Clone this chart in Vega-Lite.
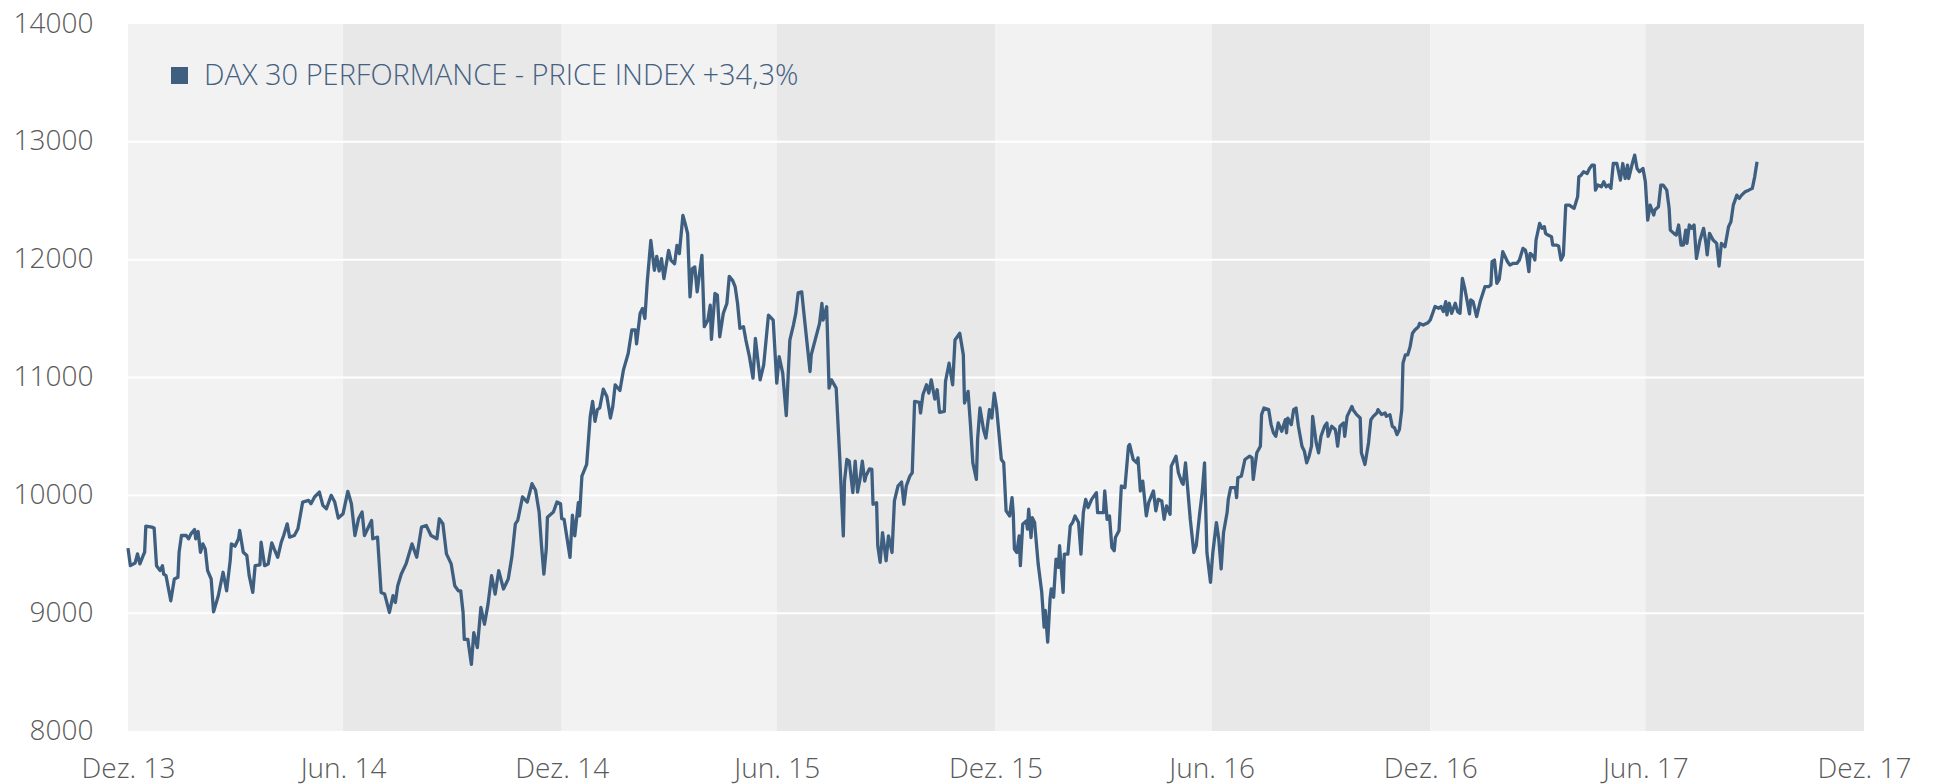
{
 "$schema": "https://vega.github.io/schema/vega-lite/v6.json",
 "width": 1736,
 "height": 707,
 "autosize": {"type": "none"},
 "padding": {"left": 128, "top": 24, "right": 72, "bottom": 53},
 "background": "#ffffff",
 "config": {"view": {"stroke": null}, "font": "Open Sans"},
 "datasets": {
  "bands": [
   {"s": "2013-12-31", "e": "2014-06-30", "k": "a"},
   {"s": "2014-06-30", "e": "2014-12-31", "k": "b"},
   {"s": "2014-12-31", "e": "2015-06-30", "k": "a"},
   {"s": "2015-06-30", "e": "2015-12-31", "k": "b"},
   {"s": "2015-12-31", "e": "2016-06-30", "k": "a"},
   {"s": "2016-06-30", "e": "2016-12-31", "k": "b"},
   {"s": "2016-12-31", "e": "2017-06-30", "k": "a"},
   {"s": "2017-06-30", "e": "2017-12-31", "k": "b"}
  ],
  "grid": [{"g": 9000}, {"g": 10000}, {"g": 11000}, {"g": 12000}, {"g": 13000}],
  "dax": [
   {"d":"2013-12-31","v":9552},{"d":"2014-01-02","v":9403},{"d":"2014-01-06","v":9426},{"d":"2014-01-08","v":9503},{"d":"2014-01-10","v":9418},{"d":"2014-01-13","v":9494},{"d":"2014-01-14","v":9517},{"d":"2014-01-15","v":9739},{"d":"2014-01-20","v":9730},{"d":"2014-01-22","v":9722},{"d":"2014-01-24","v":9403},{"d":"2014-01-27","v":9361},{"d":"2014-01-29","v":9403},{"d":"2014-01-30","v":9332},{"d":"2014-02-01","v":9318},{"d":"2014-02-05","v":9105},{"d":"2014-02-08","v":9290},{"d":"2014-02-11","v":9304},{"d":"2014-02-12","v":9517},{"d":"2014-02-14","v":9659},{"d":"2014-02-18","v":9659},{"d":"2014-02-20","v":9631},{"d":"2014-02-22","v":9673},{"d":"2014-02-25","v":9710},{"d":"2014-02-26","v":9631},{"d":"2014-02-28","v":9693},
   {"d":"2014-03-02","v":9517},{"d":"2014-03-04","v":9588},{"d":"2014-03-06","v":9545},{"d":"2014-03-08","v":9361},{"d":"2014-03-11","v":9290},{"d":"2014-03-13","v":9011},{"d":"2014-03-17","v":9148},{"d":"2014-03-21","v":9347},{"d":"2014-03-24","v":9190},{"d":"2014-03-27","v":9446},{"d":"2014-03-28","v":9588},{"d":"2014-03-31","v":9568},{"d":"2014-04-03","v":9631},{"d":"2014-04-04","v":9702},{"d":"2014-04-07","v":9517},{"d":"2014-04-10","v":9489},{"d":"2014-04-12","v":9318},{"d":"2014-04-15","v":9176},{"d":"2014-04-17","v":9403},{"d":"2014-04-21","v":9409},{"d":"2014-04-22","v":9602},{"d":"2014-04-25","v":9403},{"d":"2014-04-28","v":9418},{"d":"2014-05-01","v":9597},{"d":"2014-05-03","v":9545},{"d":"2014-05-06","v":9474},{"d":"2014-05-09","v":9602},{"d":"2014-05-11","v":9659},{"d":"2014-05-14","v":9758},{"d":"2014-05-16","v":9645},{"d":"2014-05-20","v":9659},{"d":"2014-05-23","v":9716},{"d":"2014-05-27","v":9943},{"d":"2014-06-01","v":9957},{"d":"2014-06-03","v":9929},{"d":"2014-06-06","v":9986},{"d":"2014-06-10","v":10028},{"d":"2014-06-13","v":9915},{"d":"2014-06-16","v":9886},{"d":"2014-06-20","v":10000},{"d":"2014-06-23","v":9943},{"d":"2014-06-26","v":9807},{"d":"2014-06-30","v":9844},
   {"d":"2014-07-04","v":10034},{"d":"2014-07-07","v":9929},{"d":"2014-07-10","v":9659},{"d":"2014-07-13","v":9801},{"d":"2014-07-16","v":9858},{"d":"2014-07-18","v":9659},{"d":"2014-07-24","v":9787},{"d":"2014-07-25","v":9631},{"d":"2014-07-29","v":9645},{"d":"2014-08-01","v":9176},{"d":"2014-08-04","v":9162},{"d":"2014-08-08","v":9006},{"d":"2014-08-11","v":9148},{"d":"2014-08-13","v":9091},{"d":"2014-08-15","v":9233},{"d":"2014-08-18","v":9332},{"d":"2014-08-22","v":9418},{"d":"2014-08-27","v":9588},{"d":"2014-08-31","v":9474},{"d":"2014-09-04","v":9730},{"d":"2014-09-08","v":9744},{"d":"2014-09-12","v":9659},{"d":"2014-09-17","v":9631},{"d":"2014-09-19","v":9801},{"d":"2014-09-22","v":9759},{"d":"2014-09-25","v":9503},{"d":"2014-09-29","v":9418},{"d":"2014-10-02","v":9233},{"d":"2014-10-05","v":9190},{"d":"2014-10-07","v":9190},{"d":"2014-10-09","v":9006},{"d":"2014-10-10","v":8778},{"d":"2014-10-13","v":8778},{"d":"2014-10-16","v":8565},{"d":"2014-10-18","v":8835},{"d":"2014-10-21","v":8707},{"d":"2014-10-24","v":9048},{"d":"2014-10-27","v":8906},{"d":"2014-10-30","v":9077},{"d":"2014-11-02","v":9318},{"d":"2014-11-05","v":9162},{"d":"2014-11-08","v":9361},{"d":"2014-11-12","v":9205},{"d":"2014-11-16","v":9290},{"d":"2014-11-19","v":9474},{"d":"2014-11-22","v":9758},{"d":"2014-11-24","v":9787},{"d":"2014-11-28","v":9986},{"d":"2014-12-02","v":9943},{"d":"2014-12-06","v":10099},{"d":"2014-12-09","v":10043},{"d":"2014-12-12","v":9858},{"d":"2014-12-14","v":9574},{"d":"2014-12-16","v":9332},{"d":"2014-12-18","v":9545},{"d":"2014-12-19","v":9815},{"d":"2014-12-24","v":9858},{"d":"2014-12-27","v":9943},{"d":"2014-12-30","v":9929},{"d":"2014-12-31","v":9803},
   {"d":"2015-01-02","v":9797},{"d":"2015-01-07","v":9473},{"d":"2015-01-09","v":9831},{"d":"2015-01-11","v":9656},{"d":"2015-01-14","v":9938},{"d":"2015-01-15","v":9825},{"d":"2015-01-17","v":10163},{"d":"2015-01-21","v":10262},{"d":"2015-01-24","v":10670},{"d":"2015-01-26","v":10797},{"d":"2015-01-28","v":10628},{"d":"2015-01-30","v":10727},{"d":"2015-02-01","v":10741},{"d":"2015-02-04","v":10901},{"d":"2015-02-07","v":10839},{"d":"2015-02-10","v":10656},{"d":"2015-02-12","v":10755},{"d":"2015-02-14","v":10938},{"d":"2015-02-18","v":10890},{"d":"2015-02-21","v":11065},{"d":"2015-02-25","v":11206},{"d":"2015-02-28","v":11403},{"d":"2015-03-03","v":11403},{"d":"2015-03-04","v":11285},{"d":"2015-03-07","v":11544},{"d":"2015-03-09","v":11586},{"d":"2015-03-11","v":11501},{"d":"2015-03-13","v":11811},{"d":"2015-03-16","v":12163},{"d":"2015-03-19","v":11910},{"d":"2015-03-21","v":12028},{"d":"2015-03-23","v":11904},{"d":"2015-03-25","v":12008},{"d":"2015-03-27","v":11839},{"d":"2015-03-31","v":12079},{"d":"2015-04-02","v":11994},{"d":"2015-04-05","v":11966},{"d":"2015-04-07","v":12121},{"d":"2015-04-09","v":12051},{"d":"2015-04-12","v":12375},{"d":"2015-04-14","v":12304},{"d":"2015-04-16","v":12220},{"d":"2015-04-18","v":11684},{"d":"2015-04-20","v":11924},{"d":"2015-04-22","v":11938},{"d":"2015-04-24","v":11727},{"d":"2015-04-28","v":12037},{"d":"2015-04-30","v":11431},{"d":"2015-05-03","v":11487},{"d":"2015-05-05","v":11614},{"d":"2015-05-06","v":11324},{"d":"2015-05-09","v":11713},{"d":"2015-05-11","v":11699},{"d":"2015-05-13","v":11346},{"d":"2015-05-16","v":11544},{"d":"2015-05-19","v":11628},{"d":"2015-05-21","v":11859},{"d":"2015-05-24","v":11820},{"d":"2015-05-26","v":11769},{"d":"2015-05-28","v":11628},{"d":"2015-05-30","v":11417},{"d":"2015-06-02","v":11431},{"d":"2015-06-04","v":11318},{"d":"2015-06-07","v":11177},{"d":"2015-06-10","v":10994},{"d":"2015-06-12","v":11332},{"d":"2015-06-16","v":10980},{"d":"2015-06-19","v":11107},{"d":"2015-06-23","v":11530},{"d":"2015-06-27","v":11487},{"d":"2015-06-30","v":10952},
   {"d":"2015-07-02","v":11177},{"d":"2015-07-05","v":11037},{"d":"2015-07-08","v":10676},{"d":"2015-07-11","v":11318},{"d":"2015-07-14","v":11445},{"d":"2015-07-16","v":11544},{"d":"2015-07-18","v":11718},{"d":"2015-07-21","v":11727},{"d":"2015-07-23","v":11530},{"d":"2015-07-28","v":11051},{"d":"2015-07-29","v":11192},{"d":"2015-08-05","v":11459},{"d":"2015-08-07","v":11628},{"d":"2015-08-08","v":11487},{"d":"2015-08-11","v":11600},{"d":"2015-08-13","v":10910},{"d":"2015-08-15","v":10980},{"d":"2015-08-19","v":10910},{"d":"2015-08-22","v":10318},{"d":"2015-08-25","v":9656},{"d":"2015-08-26","v":10121},{"d":"2015-08-28","v":10304},{"d":"2015-08-30","v":10290},{"d":"2015-09-02","v":10023},{"d":"2015-09-04","v":10290},{"d":"2015-09-06","v":10028},{"d":"2015-09-08","v":10135},{"d":"2015-09-10","v":10290},{"d":"2015-09-12","v":10121},{"d":"2015-09-13","v":10163},{"d":"2015-09-16","v":10225},{"d":"2015-09-18","v":10220},{"d":"2015-09-19","v":9924},{"d":"2015-09-22","v":9938},{"d":"2015-09-23","v":9572},{"d":"2015-09-25","v":9431},{"d":"2015-09-27","v":9684},{"d":"2015-09-30","v":9445},{"d":"2015-10-02","v":9656},{"d":"2015-10-05","v":9515},{"d":"2015-10-07","v":9952},{"d":"2015-10-10","v":10079},{"d":"2015-10-13","v":10113},{"d":"2015-10-15","v":9924},{"d":"2015-10-17","v":10079},{"d":"2015-10-20","v":10163},{"d":"2015-10-22","v":10191},{"d":"2015-10-24","v":10797},{"d":"2015-10-28","v":10789},{"d":"2015-10-29","v":10699},{"d":"2015-10-31","v":10853},{"d":"2015-11-03","v":10938},{"d":"2015-11-05","v":10868},{"d":"2015-11-07","v":10980},{"d":"2015-11-10","v":10817},{"d":"2015-11-12","v":10896},{"d":"2015-11-14","v":10704},{"d":"2015-11-18","v":10713},{"d":"2015-11-19","v":10966},{"d":"2015-11-22","v":11121},{"d":"2015-11-25","v":10938},{"d":"2015-11-27","v":11318},{"d":"2015-12-01","v":11375},{"d":"2015-12-04","v":11192},{"d":"2015-12-05","v":10783},{"d":"2015-12-08","v":10882},{"d":"2015-12-10","v":10600},{"d":"2015-12-12","v":10276},{"d":"2015-12-15","v":10135},{"d":"2015-12-16","v":10473},{"d":"2015-12-18","v":10741},{"d":"2015-12-21","v":10558},{"d":"2015-12-23","v":10487},{"d":"2015-12-26","v":10727},{"d":"2015-12-28","v":10656},{"d":"2015-12-30","v":10868},
   {"d":"2016-01-01","v":10741},{"d":"2016-01-05","v":10304},{"d":"2016-01-07","v":10276},{"d":"2016-01-09","v":9868},{"d":"2016-01-12","v":9825},{"d":"2016-01-14","v":9980},{"d":"2016-01-15","v":9854},{"d":"2016-01-16","v":9544},{"d":"2016-01-18","v":9515},{"d":"2016-01-20","v":9656},{"d":"2016-01-21","v":9403},{"d":"2016-01-23","v":9755},{"d":"2016-01-26","v":9783},{"d":"2016-01-27","v":9713},{"d":"2016-01-28","v":9882},{"d":"2016-01-30","v":9642},{"d":"2016-01-31","v":9811},{"d":"2016-02-02","v":9769},{"d":"2016-02-05","v":9417},{"d":"2016-02-08","v":9177},{"d":"2016-02-10","v":8882},{"d":"2016-02-11","v":9023},{"d":"2016-02-13","v":8755},{"d":"2016-02-15","v":9121},{"d":"2016-02-16","v":9206},{"d":"2016-02-18","v":9135},{"d":"2016-02-20","v":9459},{"d":"2016-02-22","v":9389},{"d":"2016-02-23","v":9572},{"d":"2016-02-26","v":9177},{"d":"2016-02-27","v":9501},{"d":"2016-03-01","v":9501},{"d":"2016-03-03","v":9741},{"d":"2016-03-05","v":9769},{"d":"2016-03-07","v":9825},{"d":"2016-03-10","v":9769},{"d":"2016-03-12","v":9501},{"d":"2016-03-14","v":9854},{"d":"2016-03-16","v":9966},{"d":"2016-03-18","v":9896},{"d":"2016-03-21","v":9966},{"d":"2016-03-25","v":10023},{"d":"2016-03-26","v":9854},{"d":"2016-03-31","v":9854},{"d":"2016-04-01","v":10037},{"d":"2016-04-03","v":9797},{"d":"2016-04-05","v":9825},{"d":"2016-04-07","v":9558},{"d":"2016-04-09","v":9530},{"d":"2016-04-10","v":9642},{"d":"2016-04-13","v":9699},{"d":"2016-04-15","v":10079},{"d":"2016-04-18","v":10065},{"d":"2016-04-21","v":10417},{"d":"2016-04-22","v":10431},{"d":"2016-04-25","v":10304},{"d":"2016-04-28","v":10276},{"d":"2016-04-29","v":10318},{"d":"2016-05-01","v":10037},{"d":"2016-05-03","v":10121},{"d":"2016-05-06","v":9825},{"d":"2016-05-08","v":9938},{"d":"2016-05-12","v":10037},{"d":"2016-05-14","v":9868},{"d":"2016-05-16","v":9966},{"d":"2016-05-19","v":9952},{"d":"2016-05-21","v":9797},{"d":"2016-05-23","v":9910},{"d":"2016-05-26","v":9839},{"d":"2016-05-27","v":10248},{"d":"2016-05-31","v":10332},{"d":"2016-06-02","v":10192},{"d":"2016-06-05","v":10107},{"d":"2016-06-06","v":10093},{"d":"2016-06-08","v":10276},{"d":"2016-06-12","v":9797},{"d":"2016-06-15","v":9515},{"d":"2016-06-17","v":9572},{"d":"2016-06-20","v":9854},{"d":"2016-06-22","v":10023},{"d":"2016-06-24","v":10276},{"d":"2016-06-26","v":9515},{"d":"2016-06-29","v":9262},
   {"d":"2016-07-01","v":9515},{"d":"2016-07-04","v":9769},{"d":"2016-07-06","v":9628},{"d":"2016-07-08","v":9375},{"d":"2016-07-10","v":9685},{"d":"2016-07-13","v":9854},{"d":"2016-07-14","v":9966},{"d":"2016-07-16","v":10065},{"d":"2016-07-20","v":10065},{"d":"2016-07-21","v":9980},{"d":"2016-07-22","v":10149},{"d":"2016-07-25","v":10163},{"d":"2016-07-28","v":10304},{"d":"2016-08-01","v":10332},{"d":"2016-08-03","v":10318},{"d":"2016-08-04","v":10135},{"d":"2016-08-07","v":10361},{"d":"2016-08-10","v":10417},{"d":"2016-08-11","v":10685},{"d":"2016-08-13","v":10741},{"d":"2016-08-17","v":10727},{"d":"2016-08-19","v":10600},{"d":"2016-08-21","v":10530},{"d":"2016-08-23","v":10501},{"d":"2016-08-25","v":10614},{"d":"2016-08-28","v":10544},{"d":"2016-08-31","v":10642},{"d":"2016-09-01","v":10530},{"d":"2016-09-02","v":10656},{"d":"2016-09-05","v":10600},{"d":"2016-09-07","v":10727},{"d":"2016-09-09","v":10741},{"d":"2016-09-11","v":10586},{"d":"2016-09-14","v":10417},{"d":"2016-09-16","v":10375},{"d":"2016-09-18","v":10276},{"d":"2016-09-20","v":10332},{"d":"2016-09-22","v":10417},{"d":"2016-09-23","v":10670},{"d":"2016-09-26","v":10445},{"d":"2016-09-28","v":10361},{"d":"2016-09-30","v":10501},{"d":"2016-10-03","v":10586},{"d":"2016-10-05","v":10614},{"d":"2016-10-06","v":10501},{"d":"2016-10-09","v":10586},{"d":"2016-10-12","v":10558},{"d":"2016-10-13","v":10501},{"d":"2016-10-14","v":10417},{"d":"2016-10-16","v":10586},{"d":"2016-10-19","v":10614},{"d":"2016-10-20","v":10501},{"d":"2016-10-22","v":10670},{"d":"2016-10-26","v":10755},{"d":"2016-10-27","v":10727},{"d":"2016-10-30","v":10685},{"d":"2016-11-02","v":10656},{"d":"2016-11-03","v":10361},{"d":"2016-11-06","v":10262},{"d":"2016-11-09","v":10445},{"d":"2016-11-11","v":10642},{"d":"2016-11-13","v":10670},{"d":"2016-11-16","v":10699},{"d":"2016-11-17","v":10727},{"d":"2016-11-20","v":10685},{"d":"2016-11-23","v":10699},{"d":"2016-11-24","v":10670},{"d":"2016-11-27","v":10685},{"d":"2016-11-29","v":10586},{"d":"2016-12-01","v":10572},{"d":"2016-12-03","v":10515},{"d":"2016-12-05","v":10558},{"d":"2016-12-07","v":10727},{"d":"2016-12-08","v":11121},{"d":"2016-12-10","v":11192},{"d":"2016-12-12","v":11192},{"d":"2016-12-14","v":11262},{"d":"2016-12-16","v":11375},{"d":"2016-12-18","v":11403},{"d":"2016-12-21","v":11431},{"d":"2016-12-22","v":11459},{"d":"2016-12-25","v":11445},{"d":"2016-12-29","v":11465},{"d":"2016-12-31","v":11489},
   {"d":"2017-01-04","v":11602},{"d":"2017-01-07","v":11588},{"d":"2017-01-09","v":11602},{"d":"2017-01-11","v":11559},{"d":"2017-01-13","v":11644},{"d":"2017-01-14","v":11531},{"d":"2017-01-16","v":11630},{"d":"2017-01-18","v":11545},{"d":"2017-01-21","v":11630},{"d":"2017-01-23","v":11559},{"d":"2017-01-25","v":11545},{"d":"2017-01-27","v":11842},{"d":"2017-01-29","v":11757},{"d":"2017-02-02","v":11540},{"d":"2017-02-03","v":11658},{"d":"2017-02-05","v":11644},{"d":"2017-02-08","v":11517},{"d":"2017-02-11","v":11644},{"d":"2017-02-15","v":11771},{"d":"2017-02-18","v":11771},{"d":"2017-02-20","v":11785},{"d":"2017-02-21","v":11983},{"d":"2017-02-23","v":11997},{"d":"2017-02-25","v":11799},{"d":"2017-02-27","v":11833},{"d":"2017-03-02","v":12068},{"d":"2017-03-06","v":11983},{"d":"2017-03-08","v":11955},{"d":"2017-03-11","v":11969},{"d":"2017-03-14","v":11969},{"d":"2017-03-16","v":11997},{"d":"2017-03-19","v":12096},{"d":"2017-03-21","v":12082},{"d":"2017-03-22","v":12040},{"d":"2017-03-24","v":11898},{"d":"2017-03-25","v":12054},{"d":"2017-03-28","v":12025},{"d":"2017-03-29","v":11997},{"d":"2017-03-30","v":12167},{"d":"2017-04-02","v":12308},{"d":"2017-04-04","v":12266},{"d":"2017-04-06","v":12280},{"d":"2017-04-07","v":12223},{"d":"2017-04-09","v":12209},{"d":"2017-04-12","v":12195},{"d":"2017-04-13","v":12124},{"d":"2017-04-16","v":12124},{"d":"2017-04-18","v":12116},{"d":"2017-04-20","v":11997},{"d":"2017-04-22","v":12040},{"d":"2017-04-24","v":12463},{"d":"2017-04-27","v":12463},{"d":"2017-05-01","v":12435},{"d":"2017-05-04","v":12534},{"d":"2017-05-05","v":12703},{"d":"2017-05-07","v":12718},{"d":"2017-05-09","v":12746},{"d":"2017-05-12","v":12732},{"d":"2017-05-14","v":12774},{"d":"2017-05-16","v":12802},{"d":"2017-05-18","v":12802},{"d":"2017-05-19","v":12590},{"d":"2017-05-21","v":12633},{"d":"2017-05-24","v":12619},{"d":"2017-05-26","v":12661},{"d":"2017-05-28","v":12619},{"d":"2017-05-30","v":12633},{"d":"2017-06-01","v":12605},{"d":"2017-06-03","v":12816},{"d":"2017-06-06","v":12816},{"d":"2017-06-09","v":12675},{"d":"2017-06-11","v":12816},{"d":"2017-06-13","v":12689},{"d":"2017-06-15","v":12802},{"d":"2017-06-16","v":12689},{"d":"2017-06-19","v":12816},{"d":"2017-06-21","v":12887},{"d":"2017-06-23","v":12774},{"d":"2017-06-25","v":12746},{"d":"2017-06-28","v":12774},{"d":"2017-06-30","v":12661},
   {"d":"2017-07-02","v":12336},{"d":"2017-07-04","v":12463},{"d":"2017-07-07","v":12379},{"d":"2017-07-08","v":12421},{"d":"2017-07-11","v":12449},{"d":"2017-07-13","v":12633},{"d":"2017-07-15","v":12633},{"d":"2017-07-18","v":12590},{"d":"2017-07-20","v":12435},{"d":"2017-07-21","v":12251},{"d":"2017-07-24","v":12223},{"d":"2017-07-26","v":12209},{"d":"2017-07-28","v":12294},{"d":"2017-07-30","v":12124},{"d":"2017-08-01","v":12124},{"d":"2017-08-03","v":12251},{"d":"2017-08-04","v":12138},{"d":"2017-08-06","v":12294},{"d":"2017-08-08","v":12266},{"d":"2017-08-10","v":12294},{"d":"2017-08-12","v":12011},{"d":"2017-08-15","v":12167},{"d":"2017-08-18","v":12266},{"d":"2017-08-20","v":12138},{"d":"2017-08-21","v":12040},{"d":"2017-08-23","v":12223},{"d":"2017-08-26","v":12167},{"d":"2017-08-29","v":12138},{"d":"2017-08-31","v":11946},{"d":"2017-09-02","v":12138},{"d":"2017-09-05","v":12110},{"d":"2017-09-08","v":12280},{"d":"2017-09-10","v":12322},{"d":"2017-09-12","v":12463},{"d":"2017-09-15","v":12548},{"d":"2017-09-17","v":12520},{"d":"2017-09-19","v":12548},{"d":"2017-09-22","v":12576},{"d":"2017-09-25","v":12590},{"d":"2017-09-28","v":12605},{"d":"2017-09-30","v":12703},{"d":"2017-10-02","v":12831}
  ]
 },
 "layer": [
  {
   "data": {"name": "bands"},
   "mark": {"type": "rect"},
   "encoding": {
    "x": {
     "field": "s", "type": "temporal",
     "scale": {"type": "utc", "domain": [{"year": 2013, "month": 12, "date": 31, "utc": true}, {"year": 2017, "month": 12, "date": 31, "utc": true}]},
     "axis": {
      "title": null, "grid": false, "domain": false, "ticks": false,
      "values": [
       {"year": 2013, "month": 12, "date": 31, "utc": true},
       {"year": 2014, "month": 6, "date": 30, "utc": true},
       {"year": 2014, "month": 12, "date": 31, "utc": true},
       {"year": 2015, "month": 6, "date": 30, "utc": true},
       {"year": 2015, "month": 12, "date": 31, "utc": true},
       {"year": 2016, "month": 6, "date": 30, "utc": true},
       {"year": 2016, "month": 12, "date": 31, "utc": true},
       {"year": 2017, "month": 6, "date": 30, "utc": true},
       {"year": 2017, "month": 12, "date": 31, "utc": true}
      ],
      "labelExpr": "(utcmonth(datum.value) == 11 ? 'Dez. ' : 'Jun. ') + utcFormat(datum.value, '%y')",
      "labelFont": "Open Sans", "labelFontWeight": 300, "labelFontSize": 28, "labelColor": "#5a5a5a",
      "labelPadding": 24, "labelFlush": false, "labelOverlap": false, "labelBound": false
     }
    },
    "x2": {"field": "e"},
    "fill": {"field": "k", "type": "nominal", "scale": {"domain": ["a", "b"], "range": ["#f2f2f2", "#e8e8e8"]}, "legend": null}
   }
  },
  {
   "data": {"name": "grid"},
   "mark": {"type": "rule", "color": "#ffffff", "strokeWidth": 2},
   "encoding": {
    "y": {
     "field": "g", "type": "quantitative",
     "scale": {"domain": [8000, 14000], "nice": false, "zero": false},
     "axis": {
      "title": null, "grid": false, "domain": false, "ticks": false,
      "values": [8000, 9000, 10000, 11000, 12000, 13000, 14000],
      "format": "d",
      "labelFont": "Open Sans", "labelFontWeight": 300, "labelFontSize": 28, "labelColor": "#5a5a5a",
      "labelPadding": 35, "labelFlush": false, "labelOverlap": false, "labelBound": false
     }
    }
   }
  },
  {
   "data": {"name": "dax"},
   "mark": {"type": "line", "strokeWidth": 3.3, "strokeJoin": "round"},
   "encoding": {
    "x": {"field": "d", "type": "temporal"},
    "y": {"field": "v", "type": "quantitative"},
    "color": {
     "datum": "DAX 30 PERFORMANCE - PRICE INDEX +34,3%",
     "type": "nominal",
     "scale": {"range": ["#3f5f80"]},
     "legend": {
      "title": null, "orient": "none", "legendX": 37, "legendY": 37, "padding": 0,
      "symbolType": "square", "symbolSize": 290, "symbolFillColor": "#3f5f80", "symbolStrokeWidth": 0,
      "labelFont": "Open Sans", "labelFontWeight": 300, "labelFontSize": 29, "labelColor": "#44607f",
      "labelOffset": 10, "labelLimit": 0,
      "encode": {"symbols": {"update": {"fill": {"value": "#3f5f80"}, "strokeWidth": {"value": 0}}}}
     }
    }
   }
  }
 ]
}
